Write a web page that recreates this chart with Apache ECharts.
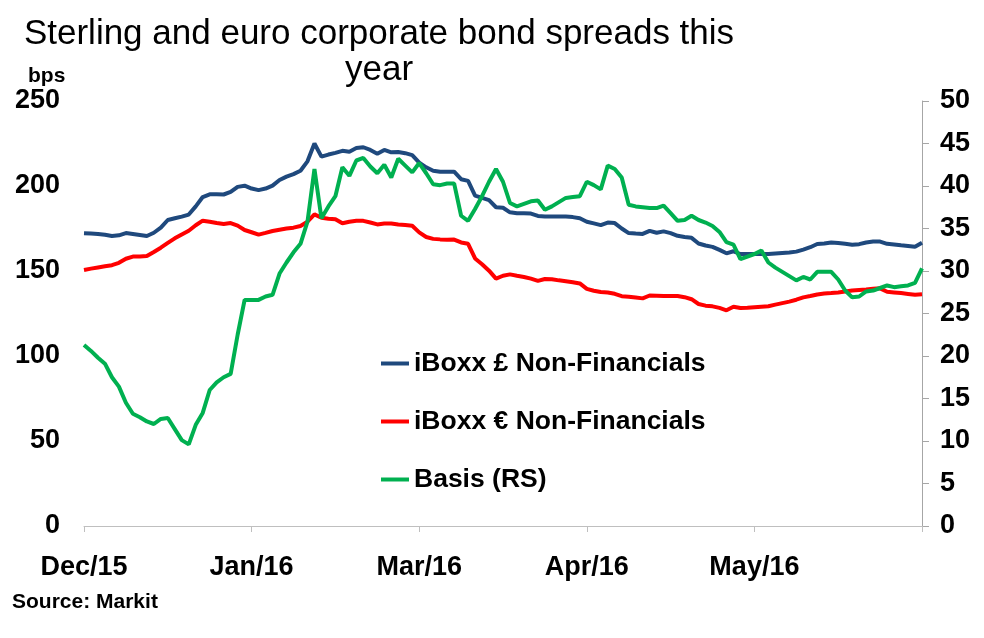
<!DOCTYPE html>
<html>
<head>
<meta charset="utf-8">
<script src="https://cdn.jsdelivr.net/npm/echarts@6/dist/echarts.min.js"></script>
<style>
html,body{margin:0;padding:0;background:#fff;}
#chart{width:984px;height:638px;}
</style>
</head>
<body>
<div id="chart"></div>
<script>
// x tick labels (one every 24 observations)
const xTickLabels = ['Dec/15', 'Jan/16', 'Mar/16', 'Apr/16', 'May/16', ''];
const tickEvery = 24;

// iBoxx £ Non-Financials (bps, left axis)
const gbpSpread = [
  172.2,172,171.8,171.3,170.6,171,172.3,171.8,171.2,170.6,
  172.5,175.5,180,181,182,183.2,188,193.5,195.1,195.1,
  195,196.5,199.5,200.2,198.5,197.6,198.5,200.2,203.5,205.5,
  207,209,214.5,225,217.3,218.5,219.5,220.7,220.2,222.3,
  222.8,221.2,219,221.2,219.8,220,219.3,218.2,213.8,211,
  209,208.4,208.4,208.4,204,203,194.3,193,191.7,187.5,
  187.2,184.5,184,184,183.8,182.4,182,182,182,182,
  181.7,181,179,178,177,178.5,178.2,175,172.3,172,
  171.8,173.6,172.5,173.3,172.3,170.7,170,169.5,166.2,165,
  164.2,162.4,160.4,161.6,160,160,160,160,160,160.3,
  160.6,160.9,161.4,162.6,164,165.9,166.2,166.8,166.5,166,
  165.5,165.8,166.8,167.3,167.3,166,165.6,165.1,164.7,164.3,
  166.6
];

// iBoxx € Non-Financials (bps, left axis)
const eurSpread = [
  150.6,151.4,152.1,152.8,153.4,154.8,157.2,158.5,158.6,158.8,
  161.2,163.7,166.5,169.2,171.5,173.7,176.9,179.6,179,178.2,
  177.6,178.2,176.7,174.1,172.8,171.4,172.4,173.5,174.3,175,
  175.5,176.5,179,183.3,181.3,180.8,180.5,178.1,179,179.6,
  179.5,178.5,177.4,177.9,178,177.4,177,176.6,172.7,170,
  168.9,168.6,168.4,168.5,166.8,166,157.4,154,150.2,145.5,
  147.2,148,147.2,146.5,145.5,144.2,145.3,145.2,144.5,144,
  143.4,142.7,139.5,138.4,137.6,137.3,136.6,135.2,134.9,134.4,
  133.9,135.6,135.5,135.3,135.3,135.3,134.6,133.4,130.6,129.6,
  129.2,128.3,126.9,129,128.2,128.4,128.7,129,129.3,130.2,
  131.1,132,133.1,134.5,135.3,136.2,136.7,137,137.4,137.9,
  138.5,138.8,139.1,139.5,139.8,137.8,137.4,137,136.5,136,
  136.3
];

// Basis (RS, right axis)
const basis = [
  21.3,20.6,19.8,19.1,17.5,16.4,14.5,13.2,12.8,12.3,
  12,12.6,12.7,11.4,10.1,9.6,11.9,13.3,16,16.9,
  17.5,17.9,22.5,26.6,26.6,26.6,27,27.2,29.7,31,
  32.2,33.2,35.8,42,36.2,37.6,38.8,42.2,41.2,43,
  43.3,42.3,41.5,42.5,41,43.2,42.4,41.6,42.7,41.5,
  40.2,40.1,40.3,40.3,36.5,35.9,37.3,38.8,40.5,42,
  40.5,38,37.6,37.9,38.2,38.3,37.2,37.6,38.1,38.6,
  38.7,38.8,40.5,40.1,39.6,42.4,42,41,37.8,37.6,
  37.5,37.4,37.4,37.7,36.8,35.9,36,36.5,36,35.7,
  35.3,34.6,33.4,33.1,31.4,31.7,32,32.4,31,30.4,
  29.9,29.4,28.9,29.3,29,29.9,29.9,29.9,29,27.7,
  26.9,27,27.6,27.7,28,28.3,28.1,28.2,28.3,28.6,
  30.3
];

const categories = gbpSpread.map((_, i) => String(i));

const FONT = '"Liberation Sans", Arial, sans-serif';
const chart = echarts.init(document.getElementById('chart'), null, {renderer: 'canvas'});

chart.setOption({
  backgroundColor: '#ffffff',
  animation: false,
  grid: {left: 84, right: 62, top: 101, bottom: 112, containLabel: false},
  graphic: [
    {type: 'text', x: 379, y: 16,
     style: {text: 'Sterling and euro corporate bond spreads this\nyear', fontFamily: FONT, fontSize: 35,
             fill: '#000', align: 'center', lineHeight: 36}},
    {type: 'text', x: 28, y: 66,
     style: {text: 'bps', fontFamily: FONT, fontSize: 21, fontWeight: 'bold', fill: '#000'}},
    {type: 'text', x: 12, y: 592,
     style: {text: 'Source: Markit', fontFamily: FONT, fontSize: 21, fontWeight: 'bold', fill: '#000'}}
  ],
  legend: {
    orient: 'vertical', left: 381, top: 350, itemGap: 31, padding: 0,
    icon: 'rect', itemWidth: 28, itemHeight: 4,
    textStyle: {fontFamily: FONT, fontSize: 26.5, fontWeight: 'bold', color: '#000'},
    data: ['iBoxx £ Non-Financials', 'iBoxx € Non-Financials', 'Basis (RS)']
  },
  xAxis: {
    type: 'category', data: categories, boundaryGap: false,
    axisLine: {show: true, lineStyle: {color: '#bfbfbf', width: 1}},
    axisTick: {show: true, interval: tickEvery - 1, length: 6, lineStyle: {color: '#bfbfbf'}},
    axisLabel: {
      interval: tickEvery - 1, margin: 28,
      fontFamily: FONT, fontSize: 27, fontWeight: 'bold', color: '#000',
      formatter: (v, idx) => xTickLabels[Math.round(idx / tickEvery)] || ''
    },
    splitLine: {show: false}
  },
  yAxis: [
    {type: 'value', min: 0, max: 250, interval: 50,
     axisLine: {show: false}, axisTick: {show: false}, splitLine: {show: false},
     axisLabel: {margin: 24, fontFamily: FONT, fontSize: 27, fontWeight: 'bold', color: '#000'}},
    {type: 'value', min: 0, max: 50, interval: 5, position: 'right',
     axisLine: {show: true, lineStyle: {color: '#a6a6a6', width: 1}},
     axisTick: {show: true, length: 7, lineStyle: {color: '#a6a6a6'}},
     splitLine: {show: false},
     axisLabel: {margin: 18, fontFamily: FONT, fontSize: 27, fontWeight: 'bold', color: '#000'}}
  ],
  series: [
    {name: 'iBoxx £ Non-Financials', type: 'line', data: gbpSpread, yAxisIndex: 0,
     symbol: 'none', lineStyle: {color: '#1f497d', width: 4}, itemStyle: {color: '#1f497d'}},
    {name: 'iBoxx € Non-Financials', type: 'line', data: eurSpread, yAxisIndex: 0,
     symbol: 'none', lineStyle: {color: '#ff0000', width: 4}, itemStyle: {color: '#ff0000'}},
    {name: 'Basis (RS)', type: 'line', data: basis, yAxisIndex: 1,
     symbol: 'none', lineStyle: {color: '#00b050', width: 4}, itemStyle: {color: '#00b050'}}
  ]
});
</script>
</body>
</html>
